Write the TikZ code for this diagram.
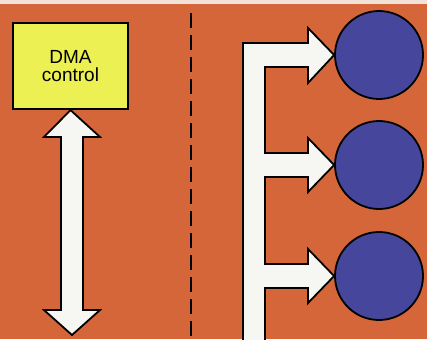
\documentclass[tikz,border=0pt]{standalone}
\usepackage{fontspec}
\setsansfont{Liberation Sans}
\usepackage{tikz}
\definecolor{bgorange}{RGB}{212,102,58}
\definecolor{scanedge}{RGB}{240,226,214}
\definecolor{boxyellow}{RGB}{236,240,82}
\definecolor{devblue}{RGB}{70,70,156}
\definecolor{pipewhite}{RGB}{246,246,242}

\begin{document}
\begin{tikzpicture}[x=1pt,y=-1pt,
  ctrl/.style={draw,line width=2.2pt,fill=boxyellow,minimum width=115pt,minimum height=86pt,inner sep=0pt,align=center,font=\sffamily\fontsize{19}{18}\selectfont},
  dev/.style={circle,draw,line width=1.8pt,fill=devblue,minimum size=88pt,inner sep=0pt},
  pipe/.style={draw,line width=1.8pt,fill=pipewhite,line join=miter},
  divider/.style={line width=2pt,dash pattern=on 15pt off 7pt}]
\useasboundingbox (0,0) rectangle (427,339);
\clip (0,0) rectangle (427,339);
\fill[bgorange] (0,0) rectangle (427,339);
\fill[scanedge] (0,0) rectangle (427,4);
% controller
\node[ctrl] (dma) at (70.5,66) {DMA\\control};
\draw[pipe] (dma.south) -- (100,137) -- (83,137) -- (83,310) -- (100,310) -- (72,335)
   -- (44,310) -- (61,310) -- (61,137) -- (44,137) -- cycle;
% divider
\coordinate (divtop) at (191,13);
\coordinate (divbot) at (191,339);
\draw[divider] (divtop) -- (divbot);
% devices
\foreach \y/\1 in %
{55/1,165/2,276/3} {
   \node[dev] (dev\1) at (379,\y) {};
}
\draw[pipe] (243,345) -- (243,43) -- (308,43) -- (308,28) -- (dev1.west) -- (308,83) -- (308,67)
   -- (265,67) -- (265,153) -- (308,153) -- (308,138) -- (dev2.west) -- (308,192) -- (308,177)
   -- (265,177) -- (265,264) -- (308,264) -- (308,249) -- (dev3.west) -- (308,303) -- (308,288)
   -- (265,288) -- (265,345) -- cycle;
\end{tikzpicture}
\end{document}
